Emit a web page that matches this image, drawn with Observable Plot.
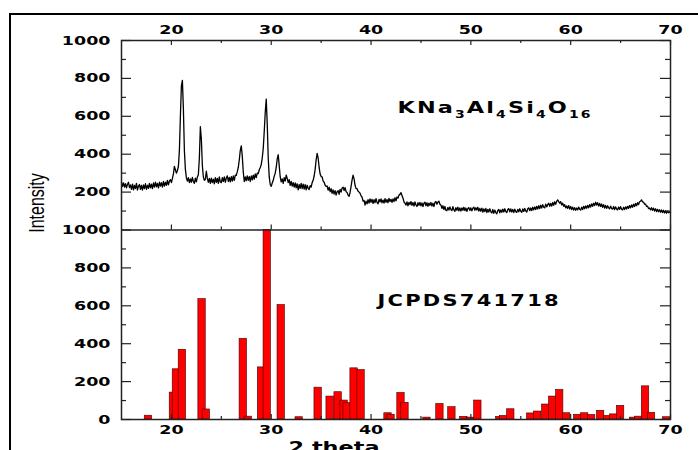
<!DOCTYPE html>
<html><head><meta charset="utf-8">
<script src="https://cdn.jsdelivr.net/npm/d3@7"></script>
<script src="https://cdn.jsdelivr.net/npm/@observablehq/plot@0.6"></script>
<style>
html,body{margin:0;padding:0;background:#fff;width:698px;height:450px;overflow:hidden;}
#chart{position:absolute;left:0;top:0;}
#border{position:absolute;left:9px;top:13px;width:900px;height:700px;border-left:2px solid #000;border-top:2px solid #000;pointer-events:none;}
</style></head><body>
<div id="chart"></div><div id="border"></div>
<script>
// ---- data ----
const thetaStart = 15;
const thetaStep = 0.1;
const sampleIntensity = [
252,230,249,226,245,222,241,252,224,238,
214,242,212,236,218,246,210,232,240,214,
236,210,238,218,244,214,236,220,246,222,
242,218,248,226,252,228,246,222,252,232,
250,226,256,232,252,236,262,238,258,266,
250,272,296,336,318,300,314,335,420,600,
760,790,640,420,320,276,258,276,250,270,
252,278,256,246,274,254,280,292,380,545,
480,340,280,262,268,310,272,252,272,246,
274,250,268,244,276,252,272,246,280,254,
250,276,256,280,252,274,286,256,278,254,
282,258,286,262,290,288,308,330,370,420,
444,390,305,256,280,260,286,262,282,256,
286,264,290,268,296,276,300,298,318,330,
345,380,430,520,620,691,560,380,280,240,
230,248,262,284,300,330,375,397,340,280,
254,270,246,276,258,290,272,250,266,236,
256,232,250,226,248,222,244,212,240,220,
246,218,242,216,240,212,236,220,214,234,
226,250,262,285,320,370,404,380,330,295,
282,280,258,252,236,230,232,210,226,202,
218,194,212,190,208,184,202,208,188,214,
200,222,226,208,224,202,198,184,178,198,
230,265,289,270,236,218,218,204,200,194,
180,174,152,156,132,152,138,160,142,164,
146,162,140,160,144,166,146,138,162,148,
164,144,158,142,166,146,161,144,167,150,
162,146,164,150,170,154,174,168,184,188,
197,182,168,148,142,132,148,128,146,134,
150,130,145,126,148,132,124,144,130,146,
127,143,124,141,147,128,144,125,142,130,
145,126,141,124,146,150,136,148,152,136,
132,114,128,108,124,104,102,119,105,122,
108,102,123,106,99,118,104,121,101,116,
100,117,104,120,102,116,98,114,118,103,
117,101,115,121,104,118,105,120,100,114,
99,115,94,111,97,114,92,109,95,112,
96,90,108,88,105,92,86,103,108,91,
106,93,110,95,112,97,92,108,113,96,
111,95,108,92,110,97,93,109,96,112,
99,94,111,98,114,100,95,112,117,102,
116,103,120,106,122,108,125,110,128,113,
131,116,134,120,117,137,122,135,141,125,
140,126,145,130,149,136,152,159,150,141,
150,132,142,125,134,117,127,114,129,111,
124,108,121,105,118,104,116,106,121,110,
105,120,108,125,112,127,115,130,117,134,
121,138,125,141,129,147,132,144,126,140,
124,137,120,134,116,130,114,128,117,112,
126,114,110,124,108,122,111,106,121,109,
123,110,106,120,108,122,111,125,114,129,
117,132,120,136,124,140,128,144,134,149,
152,159,148,147,136,137,124,126,113,116,
106,118,104,115,100,112,97,109,96,107,
94,106,92,104,90,102,89,100,91,95,
92
];
const refTheta = [17.7,20.2,20.5,21.1,23.07,23.5,27.2,27.7,29.03,29.6,31.0,32.8,34.7,35.9,36.7,37.3,37.6,38.3,39.0,
  41.7,42.0,43.0,43.4,45.6,46.9,48.1,49.3,50.0,50.7,52.9,53.3,54.0,56.0,56.7,57.5,58.2,58.9,59.6,60.7,61.4,62.1,
  63.0,63.7,64.3,65.0,66.3,66.8,67.5,68.1,69.6];
const refIntensity = [20,142,265,368,635,53,426,15,275,1000,604,12,168,121,144,100,86,270,261,
  33,25,140,88,10,82,65,14,10,100,14,19,54,32,42,79,121,156,33,25,33,24,
  46,19,27,72,10,15,175,35,12];
const xDomain = [15,70];
const xMajorTicks = [20,30,40,50,60,70];
const xMinorTicks = [25,35,45,55,65];
const yMajorTicks = [0,200,400,600,800,1000];
const yMinorTicks = [100,300,500,700,900];
const sampleLabel = "KNa3Al4Si4O16";
const refLabel = "JCPDS741718";
const xLabel = "2 theta";
const yLabel = "Intensity";

// ---- build ----
const PANEL = 1000;
const sample = sampleIntensity.map((v,i)=>({theta: thetaStart + i*thetaStep, v}));
const ref = refTheta.map((t,i)=>({theta:t, v: refIntensity[i]}));
const yMajor = yMajorTicks.concat(yMajorTicks.filter(d=>d>0).map(d=>d+PANEL));
const yMinor = yMinorTicks.concat(yMinorTicks.map(d=>d+PANEL));
const fmt = d => String(d > PANEL ? d - PANEL : d);
const halfW = 0.37;
const W=698,H=450,mL=121,mR=28,mT=40,mB=31;
const yPerPx = 2*PANEL/(H-mT-mB);
const xPerPx = (xDomain[1]-xDomain[0])/(W-mL-mR);
const [x0, x1] = xDomain;
const tickStyle = {stroke: "#222", strokeWidth: 1.2};

const yTicks = (vals, len) => [
  Plot.ruleY(vals, {y: d=>d, x1: x0, x2: x0 + len*xPerPx, ...tickStyle}),
  Plot.ruleY(vals, {y: d=>d, x1: x1, x2: x1 - len*xPerPx, ...tickStyle})
];
const xTicks = (vals, len) => [
  Plot.ruleX(vals, {x: d=>d, y1: 2*PANEL, y2: 2*PANEL - len*yPerPx, ...tickStyle}),
  Plot.ruleX(vals, {x: d=>d, y1: PANEL, y2: PANEL + len*yPerPx, ...tickStyle}),
  Plot.ruleX(vals, {x: d=>d, y1: 0, y2: len*yPerPx, ...tickStyle})
];

const plot = Plot.plot({
  width: W, height: H, marginLeft: mL, marginRight: mR, marginTop: mT, marginBottom: mB,
  style: {fontFamily: "DejaVu Sans", fontSize: "12.5px", fontWeight: "bold", color: "#000", background: "transparent", overflow: "visible"},
  x: {domain: xDomain, axis: null},
  y: {domain: [0, 2*PANEL], axis: null},
  marks: [
    Plot.rect(ref, {x1: d=>d.theta-halfW, x2: d=>d.theta+halfW, y1: 0, y2: "v", fill: "#ff0000", stroke: "#400000", strokeWidth: 0.6}),
    Plot.line(sample, {x: "theta", y: d=>d.v+PANEL, stroke: "#000", strokeWidth: 1.3}),
    Plot.ruleY([PANEL], {stroke: "#222", strokeWidth: 1.5}),
    Plot.frame({stroke: "#222", strokeWidth: 1.5}),
    ...yTicks(yMajor, 10),
    ...yTicks(yMinor, 5),
    ...xTicks(xMajorTicks, 5),
    ...xTicks(xMinorTicks, 3),
    Plot.axisY(yMajor, {anchor: "left", tickSize: 0, tickPadding: 11, tickFormat: fmt, label: null}),
    Plot.axisX(xMajorTicks, {anchor: "top", tickSize: 0, tickPadding: 7, label: null}),
    Plot.axisX(xMajorTicks, {anchor: "bottom", tickSize: 0, tickPadding: 6, label: null}),
    Plot.text([sampleLabel], {frameAnchor: "top-left", text: d=>d, dx: 276, dy: 67.5, textAnchor: "start", lineAnchor: "middle", fontSize: 16, fontWeight: "bold"}),
    Plot.text([refLabel], {frameAnchor: "top-left", text: d=>d, dx: 256, dy: 261, textAnchor: "start", lineAnchor: "middle", fontSize: 15, fontWeight: "bold"}),
    Plot.text([yLabel], {frameAnchor: "left", text: d=>d, rotate: -90, textAnchor: "middle", lineAnchor: "middle", dx: -85, dy: -27, fontFamily: "Liberation Sans", fontWeight: "normal", fontSize: 16}),
    Plot.text([xLabel], {frameAnchor: "bottom", text: d=>d, dx: -62, dy: 28.5, lineAnchor: "middle", fontSize: 16, fontWeight: "bold"})
  ]
});
document.getElementById("chart").appendChild(plot);

// horizontal stretch of the glyphs, as in the reference; subscripts in the formula
const STRETCH = 1.4;
d3.select(plot).selectAll("text").each(function(){
  const t = this.getAttribute("transform");
  if (t && /translate\([^)]*\)/.test(t)) {
    this.setAttribute("transform", t.replace(/(translate\([^)]*\))/, `$1 scale(${STRETCH},1)`));
  } else {
    const x = +(this.getAttribute("x")||0), y = +(this.getAttribute("y")||0);
    this.setAttribute("transform", `translate(${x},${y}) scale(${STRETCH},1) translate(${-x},${-y})` + (t ? " " + t : ""));
  }
  const s = this.textContent;
  if (s === sampleLabel) {
    this.style.letterSpacing = "1.5px";
    const parts = s.match(/[A-Za-z]+|\d+/g);
    const el = d3.select(this);
    el.text(null);
    let shifted = false;
    parts.forEach(p => {
      const isSub = /\d/.test(p);
      const ts = el.append("tspan").text(p);
      if (isSub && !shifted) { ts.attr("dy", 5).attr("font-size", 10); shifted = true; }
      else if (!isSub && shifted) { ts.attr("dy", -5); shifted = false; }
      else if (isSub) ts.attr("font-size", 10);
    });
  }
  if (s === refLabel) this.style.letterSpacing = "1.6px";
});
</script></body></html>
